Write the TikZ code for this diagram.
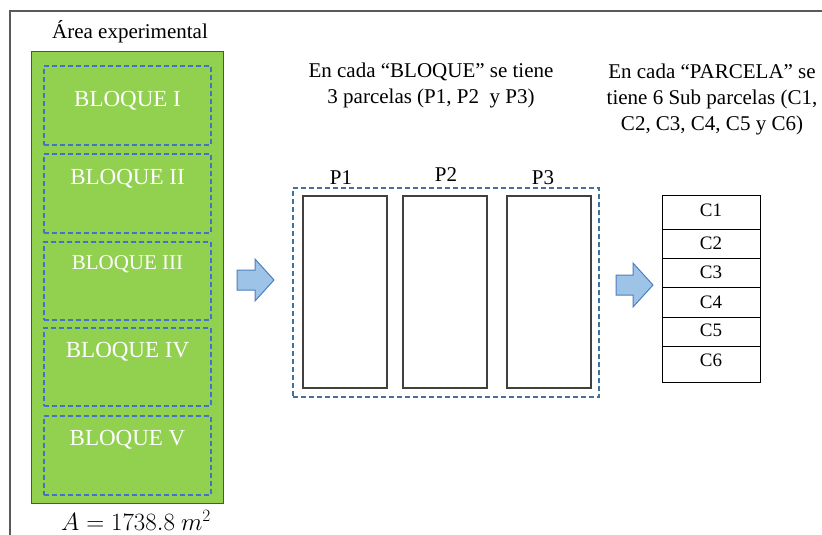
\documentclass[tikz,border=0pt]{standalone}
\usepackage{fontspec}
\setmainfont{Liberation Serif}
\definecolor{fieldgreen}{HTML}{92D050}
\definecolor{fieldedge}{HTML}{44602A}
\definecolor{dashblue}{HTML}{4472C4}
\definecolor{dashgray}{HTML}{41719C}
\definecolor{arrowfill}{HTML}{9DC3E6}
\definecolor{arrowedge}{HTML}{4F7EBF}
\definecolor{framegray}{HTML}{5A5A5A}
\begin{document}
\begin{tikzpicture}[x=1pt,y=-1pt,
  txt/.style={font=\fontsize{#1}{26}\selectfont, inner sep=0pt},
  txt/.default=21,
  blockbox/.style={draw=dashblue, dash pattern=on 5pt off 3pt, line width=1.7pt,
    minimum width=167pt, inner sep=0pt},
  blocklabel/.style={txt=#1, text=white},
  blocklabel/.default=23,
  plotbox/.style={draw=black!75, line width=1.1pt, minimum width=84pt,
    minimum height=192pt, inner sep=0pt},
  subbox/.style={draw=black, line width=1pt, minimum width=98pt, inner sep=0pt},
  fatarrow/.style={fill=arrowfill, draw=arrowedge, line width=1pt, line join=miter},
]
\useasboundingbox (0,0) rectangle (822,535);

% outer frame (only top and left edges are visible)
\draw[framegray, line width=1.4pt] (10,535) -- (10,11) -- (822,11);

% experimental area with its five blocks
\node[txt] (areatitle) at (130,32) {Área experimental};
\node[draw=fieldedge, fill=fieldgreen, line width=1pt, minimum width=192pt,
  minimum height=451pt, inner sep=0pt] (area) at (127,277.5) {};

\node[blockbox, minimum height=79pt] (b1) at (127.5,105.5) {};
\node[blockbox, minimum height=79pt] (b2) at (127.5,193.5) {};
\node[blockbox, minimum height=78pt] (b3) at (127.5,281) {};
\node[blockbox, minimum height=78pt] (b4) at (127.5,367) {};
\node[blockbox, minimum height=79pt] (b5) at (127.5,455.5) {};

\node[blocklabel] (l1) at (127.5,101) {BLOQUE I};
\node[blocklabel] (l2) at (127.5,179) {BLOQUE II};
\node[blocklabel=21] (l3) at (127.5,264) {BLOQUE III};
\node[blocklabel] (l4) at (127.5,352) {BLOQUE IV};
\node[blocklabel] (l5) at (127.5,440) {BLOQUE V};

\node[inner sep=0pt, font=\fontsize{24}{28}\selectfont] (areaval) at (136,520) {$A = 1738.8\ m^2$};

% first arrow
\draw[fatarrow] (237,270) -- (255,270) -- (255,259) -- (274,280) -- (255,301)
  -- (255,290) -- (237,290) -- cycle;

% one block: three plots
\node[txt, align=center] (blocktext) at (431,85) {En cada “BLOQUE” se tiene\\3 parcelas (P1, P2~ y P3)};
\node[draw=dashgray, dash pattern=on 5pt off 3pt, line width=1.7pt,
  minimum width=306pt, minimum height=209pt, inner sep=0pt] (block) at (446,292.5) {};
\node[plotbox] (p1) at (345,292) {};
\node[plotbox] (p2) at (445,292) {};
\node[plotbox] (p3) at (549,292) {};
\node[txt] (p1l) at (341,178) {P1};
\node[txt] (p2l) at (446,175) {P2};
\node[txt] (p3l) at (543,178) {P3};

% second arrow
\draw[fatarrow] (616,275) -- (633,275) -- (633,263) -- (653,285) -- (633,307)
  -- (633,295) -- (616,295) -- cycle;

% one plot: six subplots
\node[txt, align=center] (plottext) at (712,99) {En cada “PARCELA” se\\tiene 6 Sub parcelas (C1,\\C2, C3, C4, C5 y C6)};
\node[subbox, minimum height=34pt] (c1) at (711,212) {};
\node[subbox, minimum height=29pt] (c2) at (711,243.5) {};
\node[subbox, minimum height=29pt] (c3) at (711,272.5) {};
\node[subbox, minimum height=30pt] (c4) at (711,302) {};
\node[subbox, minimum height=29pt] (c5) at (711,331.5) {};
\node[subbox, minimum height=36pt] (c6) at (711,364) {};
\node[txt=19] at (711,210) {C1};
\node[txt=19] at (711,243) {C2};
\node[txt=19] at (711,272) {C3};
\node[txt=19] at (711,302) {C4};
\node[txt=19] at (711,330) {C5};
\node[txt=19] at (711,360) {C6};
\end{tikzpicture}
\end{document}
